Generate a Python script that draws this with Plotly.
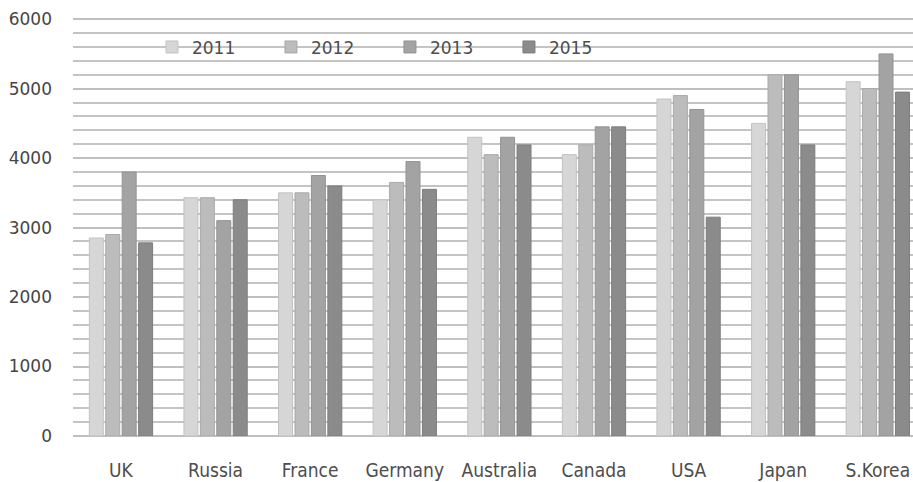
import plotly.graph_objects as go

categories = ["UK", "Russia", "France", "Germany", "Australia", "Canada", "USA", "Japan", "S.Korea"]
years = ["2011", "2012", "2013", "2015"]
v2011 = [2850, 3430, 3500, 3400, 4300, 4050, 4850, 4500, 5100]
v2012 = [2900, 3430, 3500, 3650, 4050, 4190, 4900, 5200, 5000]
v2013 = [3800, 3100, 3750, 3950, 4300, 4450, 4700, 5200, 5500]
v2015 = [2780, 3400, 3600, 3550, 4190, 4450, 3150, 4190, 4950]
series = [v2011, v2012, v2013, v2015]
colors = ["#d6d6d6", "#bcbcbc", "#a3a3a3", "#8b8b8b"]
outlines = ["#c2c2c2", "#a9a9a9", "#939393", "#7d7d7d"]

fig = go.Figure()
for name, vals, c, oc in zip(years, series, colors, outlines):
    fig.add_trace(go.Bar(x=categories, y=vals, name=name,
                         marker=dict(color=c, line=dict(color=oc, width=1))))

fig.update_layout(
    width=913, height=482,
    margin=dict(l=73, r=0, t=15, b=46),
    paper_bgcolor="white", plot_bgcolor="white",
    barmode="group", bargap=0.305, bargroupgap=0.15,
    showlegend=True,
    legend=dict(orientation="h", x=0.094, y=0.923, xanchor="left", yanchor="middle",
                bgcolor="rgba(0,0,0,0)", entrywidth=74, entrywidthmode="pixels",
                itemwidth=30,
                font=dict(family="DejaVu Sans", size=17, color="#4d4d4d")),
    xaxis=dict(range=[-0.507, 8.372], showgrid=False, showline=False, ticks="",
               ticklabelstandoff=21, automargin=False,
               tickfont=dict(family="DejaVu Sans Condensed", size=19, color="#4d4d4d")),
    yaxis=dict(range=[0, 6060], dtick=1000, tick0=0, showline=False, ticks="",
               gridcolor="#bfbfbf", gridwidth=1.5, zeroline=True, zerolinecolor="#bfbfbf",
               zerolinewidth=1.5, ticklabelstandoff=20, automargin=False,
               minor=dict(dtick=200, showgrid=True, gridcolor="#c4c4c4", gridwidth=1.5),
               tickfont=dict(family="DejaVu Sans", size=17, color="#454545")),
)

fig.write_html("out.html", config={"displayModeBar": False},
               post_script="document.body.style.margin='0';document.body.style.overflow='hidden';")
